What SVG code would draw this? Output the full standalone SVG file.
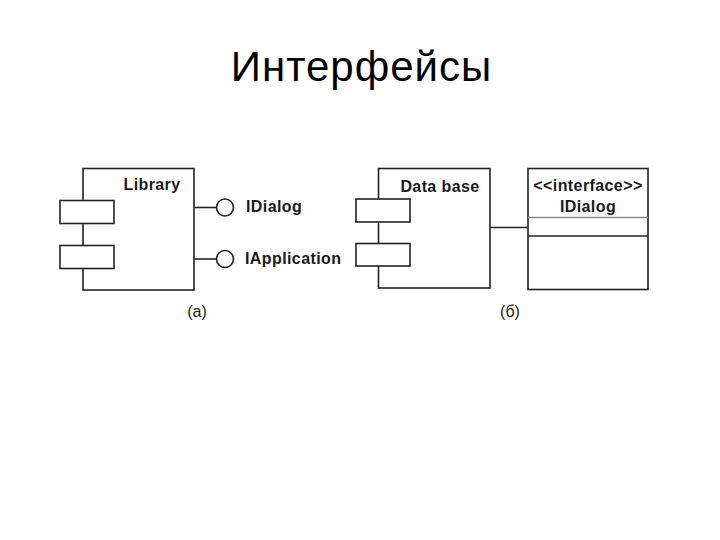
<svg xmlns="http://www.w3.org/2000/svg" width="720" height="540" viewBox="0 0 720 540">
<style>
.box{fill:#fff;stroke:#222;stroke-width:1.6}
.ln{stroke:#222;stroke-width:1.6;fill:none}
.lbl{font-family:"Liberation Sans",Arial,sans-serif;font-weight:bold;font-size:16px;fill:#1a1a1a;letter-spacing:0.4px}
.cap{font-family:"Liberation Sans",Arial,sans-serif;font-size:16px;fill:#1a1a1a}
.title{font-family:"Liberation Sans",Arial,sans-serif;font-size:42px;fill:#000;letter-spacing:1px}
</style>
<rect width="720" height="540" fill="#fff"/>
<text class="title" x="361.5" y="81" text-anchor="middle">Интерфейсы</text>
<g id="library">
<rect class="box" x="83" y="168.5" width="111" height="121.5"/>
<rect class="box" x="60" y="200.5" width="54" height="23"/>
<rect class="box" x="60" y="245.5" width="54" height="23"/>
<text class="lbl" x="152" y="190" text-anchor="middle">Library</text>
</g>
<g id="idialog-a">
<circle class="box" cx="225" cy="207.5" r="8.5"/>
<text class="lbl" x="246" y="212">IDialog</text>
</g>
<g id="iapplication">
<circle class="box" cx="225" cy="259" r="8.5"/>
<text class="lbl" x="245" y="264">IApplication</text>
</g>
<g id="database">
<rect class="box" x="378.5" y="168.5" width="111.5" height="119.5"/>
<rect class="box" x="356" y="199" width="54" height="23"/>
<rect class="box" x="356" y="243.5" width="54" height="22.5"/>
<text class="lbl" x="440" y="192" text-anchor="middle">Data base</text>
</g>
<g id="interface-idialog">
<rect class="box" x="528" y="168.5" width="120" height="121"/>
<line x1="528" y1="217.5" x2="648" y2="217.5" stroke="#888" stroke-width="1.6"/>
<line class="ln" x1="528" y1="236" x2="648" y2="236"/>
<text class="lbl" x="588" y="191" text-anchor="middle">&lt;&lt;interface&gt;&gt;</text>
<text class="lbl" x="588" y="212" text-anchor="middle">IDialog</text>
</g>
<g id="connectors">
<line class="ln" x1="194" y1="207.5" x2="216.5" y2="207.5"/>
<line class="ln" x1="194" y1="259" x2="216.5" y2="259"/>
<line class="ln" x1="490" y1="227.5" x2="528" y2="227.5"/>
</g>
<text class="cap" x="197" y="317" text-anchor="middle">(a)</text>
<text class="cap" x="510" y="317" text-anchor="middle">(б)</text>
</svg>
